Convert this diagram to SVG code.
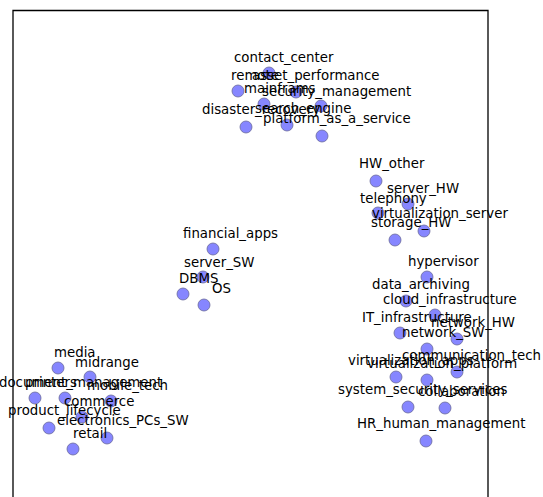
<svg xmlns="http://www.w3.org/2000/svg" width="543" height="497" viewBox="0 0 543 497">
  <style>
    .node circle { fill: #7f7fff; fill-opacity: 0.95; stroke: #6a6a9a; stroke-width: 0.8; }
    text { font-family: "DejaVu Sans", Verdana, sans-serif; font-size: 13.33px; fill: #000; }
    .frame { fill: none; stroke: #000; stroke-width: 1.3; }
  </style>
  <rect width="543" height="497" fill="#fff"/>
  <!-- plot frame (bottom edge lies below the canvas) -->
  <path class="frame" d="M13,500 V10.5 H488 V500"/>
  <!-- no edges are drawn between nodes -->
  <g id="connectors"></g>

  <!-- upper cluster -->
  <g id="contact_center" class="node"><circle cx="269" cy="73" r="6"/><text x="234" y="62">contact_center</text></g>
  <g id="remote" class="node"><circle cx="238" cy="91" r="6"/><text x="231" y="80">remote</text></g>
  <g id="asset_performance" class="node"><circle cx="296" cy="92" r="6"/><text x="252" y="80">asset_performance</text></g>
  <g id="mainframs" class="node"><circle cx="264" cy="104" r="6"/><text x="244" y="93">mainframs</text></g>
  <g id="security_management" class="node"><circle cx="321" cy="106" r="6"/><text x="262" y="96">security_management</text></g>
  <g id="disaster_recovery" class="node"><circle cx="246" cy="127" r="6"/><text x="202" y="114">disaster_recovery</text></g>
  <g id="search_engine" class="node"><circle cx="287" cy="125" r="6"/><text x="255" y="113">search_engine</text></g>
  <g id="platform_as_a_service" class="node"><circle cx="322" cy="136" r="6"/><text x="263" y="123">platform_as_a_service</text></g>

  <!-- hardware cluster -->
  <g id="HW_other" class="node"><circle cx="376" cy="181" r="6"/><text x="359" y="168">HW_other</text></g>
  <g id="server_HW" class="node"><circle cx="408" cy="204" r="6"/><text x="387" y="193">server_HW</text></g>
  <g id="telephony" class="node"><circle cx="378" cy="213" r="6"/><text x="360" y="203">telephony</text></g>
  <g id="virtualization_server" class="node"><circle cx="424" cy="231" r="6"/><text x="372" y="218">virtualization_server</text></g>
  <g id="storage_HW" class="node"><circle cx="395" cy="240" r="6"/><text x="371" y="227">storage_HW</text></g>

  <!-- software cluster -->
  <g id="financial_apps" class="node"><circle cx="213" cy="249" r="6"/><text x="183" y="238">financial_apps</text></g>
  <g id="server_SW" class="node"><circle cx="203" cy="277" r="6"/><text x="184" y="267">server_SW</text></g>
  <g id="DBMS" class="node"><circle cx="183" cy="294" r="6"/><text x="179" y="283">DBMS</text></g>
  <g id="OS" class="node"><circle cx="204" cy="305" r="6"/><text x="212" y="293">OS</text></g>

  <!-- infrastructure cluster -->
  <g id="hypervisor" class="node"><circle cx="427" cy="277" r="6"/><text x="408" y="266">hypervisor</text></g>
  <g id="data_archiving" class="node"><circle cx="406" cy="301" r="6"/><text x="372" y="289">data_archiving</text></g>
  <g id="cloud_infrastructure" class="node"><circle cx="435" cy="315" r="6"/><text x="383" y="304">cloud_infrastructure</text></g>
  <g id="IT_infrastructure" class="node"><circle cx="400" cy="333" r="6"/><text x="362" y="322">IT_infrastructure</text></g>
  <g id="network_HW" class="node"><circle cx="457" cy="339" r="6"/><text x="431" y="327">network_HW</text></g>
  <g id="network_SW" class="node"><circle cx="427" cy="349" r="6"/><text x="402" y="337">network_SW</text></g>
  <g id="communication_tech" class="node"><circle cx="457" cy="372" r="6"/><text x="402" y="360">communication_tech</text></g>
  <g id="virtualization_apps" class="node"><circle cx="396" cy="377" r="6"/><text x="348" y="365">virtualization_apps</text></g>
  <g id="virtualization_platform" class="node"><circle cx="427" cy="380" r="6"/><text x="367" y="368">virtualization_platform</text></g>
  <g id="system_security_services" class="node"><circle cx="408" cy="407" r="6"/><text x="338" y="394">system_security_services</text></g>
  <g id="collaboration" class="node"><circle cx="445" cy="408" r="6"/><text x="418" y="396">collaboration</text></g>
  <g id="HR_human_management" class="node"><circle cx="426" cy="441" r="6"/><text x="357" y="428">HR_human_management</text></g>

  <!-- lower-left cluster -->
  <g id="media" class="node"><circle cx="58" cy="368" r="6"/><text x="54" y="357">media</text></g>
  <g id="midrange" class="node"><circle cx="90" cy="377" r="6"/><text x="75" y="367">midrange</text></g>
  <g id="document_management" class="node"><circle cx="35" cy="398" r="6"/><text x="-1" y="387">document_management</text></g>
  <g id="printers" class="node"><circle cx="65" cy="398" r="6"/><text x="25" y="387">printers</text></g>
  <g id="mobile_tech" class="node"><circle cx="111" cy="401" r="6"/><text x="87" y="390">mobile_tech</text></g>
  <g id="commerce" class="node"><circle cx="82" cy="417" r="6"/><text x="64" y="406">commerce</text></g>
  <g id="product_lifecycle" class="node"><circle cx="49" cy="428" r="6"/><text x="8" y="415">product_lifecycle</text></g>
  <g id="electronics_PCs_SW" class="node"><circle cx="107" cy="438" r="6"/><text x="57" y="425">electronics_PCs_SW</text></g>
  <g id="retail" class="node"><circle cx="73" cy="449" r="6"/><text x="73" y="438">retail</text></g>
</svg>
